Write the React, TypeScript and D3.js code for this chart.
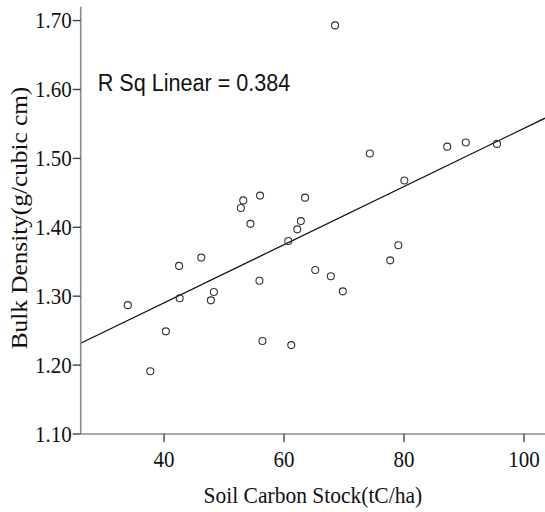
import React, { useRef, useEffect } from "react";
import * as d3 from "d3";

// Soil carbon stock (tC/ha) vs bulk density (g/cubic cm)
const carbonStock = [
  33.95, 37.7, 40.3, 42.5, 42.6, 46.2, 47.8, 48.3, 68.5, 74.3, 80.05, 53.2,
  52.8, 56.0, 54.4, 63.5, 62.8, 62.2, 60.7, 79.05, 55.9, 56.4, 61.2, 65.2,
  67.8, 69.8, 77.7, 87.2, 90.3, 95.5,
];
const bulkDensity = [
  1.287, 1.191, 1.249, 1.344, 1.297, 1.356, 1.294, 1.306, 1.693, 1.507, 1.468,
  1.439, 1.428, 1.446, 1.405, 1.443, 1.409, 1.397, 1.38, 1.374, 1.3225, 1.235,
  1.229, 1.338, 1.329, 1.307, 1.352, 1.517, 1.523, 1.521,
];
const xTicks = [40, 60, 80, 100];
const yTicks = [1.1, 1.2, 1.3, 1.4, 1.5, 1.6, 1.7];
const xTitle = "Soil Carbon Stock(tC/ha)";
const yTitle = "Bulk Density(g/cubic cm)";
const rSqLabel = "R Sq Linear = 0.384";

const W = 545;
const H = 512;
const serif = "'Liberation Serif', 'Times New Roman', serif";
const sans = "'Liberation Sans', Arial, sans-serif";

function Scatter() {
  const svgRef = useRef<SVGSVGElement | null>(null);

  useEffect(() => {
    const svg = d3.select(svgRef.current);
    svg.selectAll("*").remove();

    const x = d3.scaleLinear().domain([26.1, 103.5]).range([80.7, 545]);
    const y = d3.scaleLinear().domain([1.1, 1.72]).range([434, 6.8]);

    // least squares fit line
    const mx = d3.mean(carbonStock) as number;
    const my = d3.mean(bulkDensity) as number;
    let sxy = 0,
      sxx = 0;
    carbonStock.forEach((v, i) => {
      sxy += (v - mx) * (bulkDensity[i] - my);
      sxx += (v - mx) * (v - mx);
    });
    const slope = sxy / sxx;
    const icpt = my - slope * mx;
    const [x0, x1] = x.domain();

    svg
      .append("line")
      .attr("x1", x(x0))
      .attr("y1", y(icpt + slope * x0))
      .attr("x2", x(x1))
      .attr("y2", y(icpt + slope * x1))
      .attr("stroke", "#111")
      .attr("stroke-width", 1.3);

    // axes
    svg
      .append("line")
      .attr("x1", x(x0))
      .attr("x2", x(x1))
      .attr("y1", y(1.1))
      .attr("y2", y(1.1))
      .attr("stroke", "#8a8a8a")
      .attr("stroke-width", 1.6);
    svg
      .append("line")
      .attr("x1", x(x0))
      .attr("x2", x(x0))
      .attr("y1", y(1.1))
      .attr("y2", y(1.72))
      .attr("stroke", "#8a8a8a")
      .attr("stroke-width", 1.6);

    // y ticks
    yTicks.forEach((t) => {
      svg
        .append("line")
        .attr("x1", x(x0) - 8)
        .attr("x2", x(x0))
        .attr("y1", y(t))
        .attr("y2", y(t))
        .attr("stroke", "#444")
        .attr("stroke-width", 1.4);
      svg
        .append("text")
        .attr("transform", `translate(${x(x0) - 9},${y(t) + 7.8}) scale(1,1.1)`)
        .attr("text-anchor", "end")
        .attr("font-family", serif)
        .attr("font-size", 21)
        .attr("fill", "#111")
        .text(t.toFixed(2));
    });

    // x ticks
    xTicks.forEach((t) => {
      svg
        .append("line")
        .attr("x1", x(t))
        .attr("x2", x(t))
        .attr("y1", y(1.1))
        .attr("y2", y(1.1) + 8)
        .attr("stroke", "#444")
        .attr("stroke-width", 1.4);
      svg
        .append("text")
        .attr("transform", `translate(${x(t)},466.5) scale(1,1.1)`)
        .attr("text-anchor", "middle")
        .attr("font-family", serif)
        .attr("font-size", 21)
        .attr("fill", "#111")
        .text(t);
    });

    // points
    svg
      .append("g")
      .selectAll("circle")
      .data(carbonStock)
      .join("circle")
      .attr("cx", (d) => x(d))
      .attr("cy", (d, i) => y(bulkDensity[i]))
      .attr("r", 3.5)
      .attr("fill", "none")
      .attr("stroke", "#333")
      .attr("stroke-width", 1.1);

    // titles
    svg
      .append("text")
      .attr("transform", `translate(${(x(x0) + W) / 2},503) scale(1,1.1)`)
      .attr("text-anchor", "middle")
      .attr("font-family", serif)
      .attr("font-size", 21.5)
      .attr("fill", "#111")
      .text(xTitle);
    svg
      .append("text")
      .attr("transform", "translate(26.7,218) rotate(-90) scale(1.1,1)")
      .attr("text-anchor", "middle")
      .attr("font-family", serif)
      .attr("font-size", 23)
      .attr("fill", "#111")
      .text(yTitle);

    svg
      .append("text")
      .attr("transform", "translate(97.7,90.7) scale(1,1.08)")
      .attr("font-family", sans)
      .attr("font-size", 21.6)
      .attr("fill", "#111")
      .text(rSqLabel);
  }, []);

  return (
    <svg
      ref={svgRef}
      width={W}
      height={H}
      style={{ position: "absolute", left: 0, top: 0, background: "#fff" }}
    />
  );
}

export default function App() {
  return <Scatter />;
}
